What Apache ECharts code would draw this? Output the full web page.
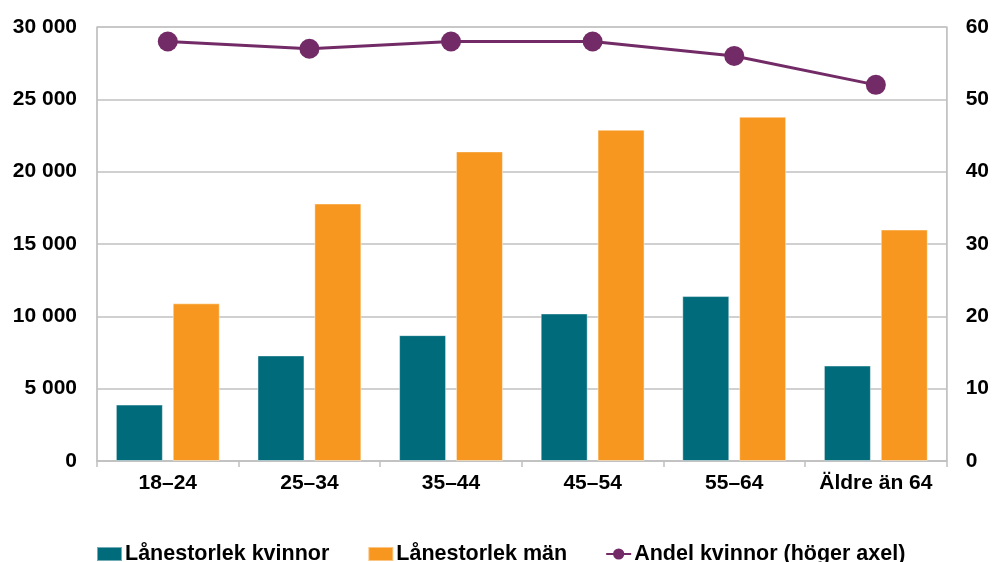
<!DOCTYPE html>
<html>
<head>
<meta charset="utf-8">
<script src="https://cdn.jsdelivr.net/npm/echarts@6/dist/echarts.min.js"></script>
<style>
  html, body { margin: 0; padding: 0; background: #fff; }
  #chart { width: 992px; height: 562px; }
</style>
</head>
<body>
<div id="chart"></div>
<script>
// Age groups
const categories = ['18–24', '25–34', '35–44', '45–54', '55–64', 'Äldre än 64'];
// Average loan size (kronor)
const loanWomen = [3900, 7300, 8700, 10200, 11400, 6600];
const loanMen = [10900, 17800, 21400, 22900, 23800, 16000];
// Share of women, percent (right axis)
const shareWomen = [58, 57, 58, 58, 56, 52];

const FONT = '"Liberation Sans", Arial, sans-serif';
const GRID = '#c0c0c0';

function thousands(v) {
  return String(v).replace(/\B(?=(\d{3})+(?!\d))/g, ' ');
}

const chart = echarts.init(document.getElementById('chart'), null, { renderer: 'canvas' });
chart.setOption({
  animation: false,
  backgroundColor: '#ffffff',
  textStyle: { fontFamily: FONT },
  grid: { left: 97, right: 45, top: 27, bottom: 101, show: true, borderColor: GRID, borderWidth: 1 },
  legend: {
    bottom: -3,
    left: 96,
    padding: 0,
    itemGap: 38,
    itemWidth: 25,
    itemHeight: 14,
    textStyle: { fontFamily: FONT, fontSize: 21.5, fontWeight: 'bold', color: '#000', padding: [0, 0, 0, -2] },
    data: [
      { name: 'Lånestorlek kvinnor', icon: 'rect' },
      { name: 'Lånestorlek män', icon: 'rect' },
      { name: 'Andel kvinnor (höger axel)' }
    ]
  },
  xAxis: {
    type: 'category',
    data: categories,
    axisLine: { lineStyle: { color: GRID, width: 1.5 } },
    axisTick: { show: true, interval: 0, length: 6, alignWithLabel: false, lineStyle: { color: GRID, width: 1.5 } },
    axisLabel: { interval: 0, fontFamily: FONT, fontSize: 21, fontWeight: 'bold', color: '#000', margin: 12 }
  },
  yAxis: [
    {
      type: 'value', min: 0, max: 30000, interval: 5000,
      axisLine: { show: true, lineStyle: { color: GRID, width: 1.5 } },
      axisTick: { show: false },
      splitLine: { lineStyle: { color: GRID, width: 1.5 } },
      axisLabel: { fontFamily: FONT, fontSize: 21, fontWeight: 'bold', color: '#000', margin: 20, formatter: thousands }
    },
    {
      type: 'value', min: 0, max: 60, interval: 10,
      axisLine: { show: true, lineStyle: { color: GRID, width: 1.5 } },
      axisTick: { show: false },
      splitLine: { show: false },
      axisLabel: { fontFamily: FONT, fontSize: 21, fontWeight: 'bold', color: '#000', margin: 19 }
    }
  ],
  series: [
    {
      name: 'Lånestorlek kvinnor', type: 'bar', data: loanWomen,
      barWidth: 47, barGap: '21%',
      itemStyle: { color: '#006b7b', borderColor: 'rgba(255,255,255,0.45)', borderWidth: 1 }
    },
    {
      name: 'Lånestorlek män', type: 'bar', data: loanMen,
      barWidth: 47, barGap: '21%',
      itemStyle: { color: '#f7971f', borderColor: 'rgba(255,255,255,0.45)', borderWidth: 1 }
    },
    {
      name: 'Andel kvinnor (höger axel)', type: 'line', yAxisIndex: 1, data: shareWomen,
      symbol: 'circle', symbolSize: 20,
      lineStyle: { color: '#722b66', width: 3 },
      itemStyle: { color: '#722b66' },
      z: 5
    }
  ]
});
</script>
</body>
</html>
